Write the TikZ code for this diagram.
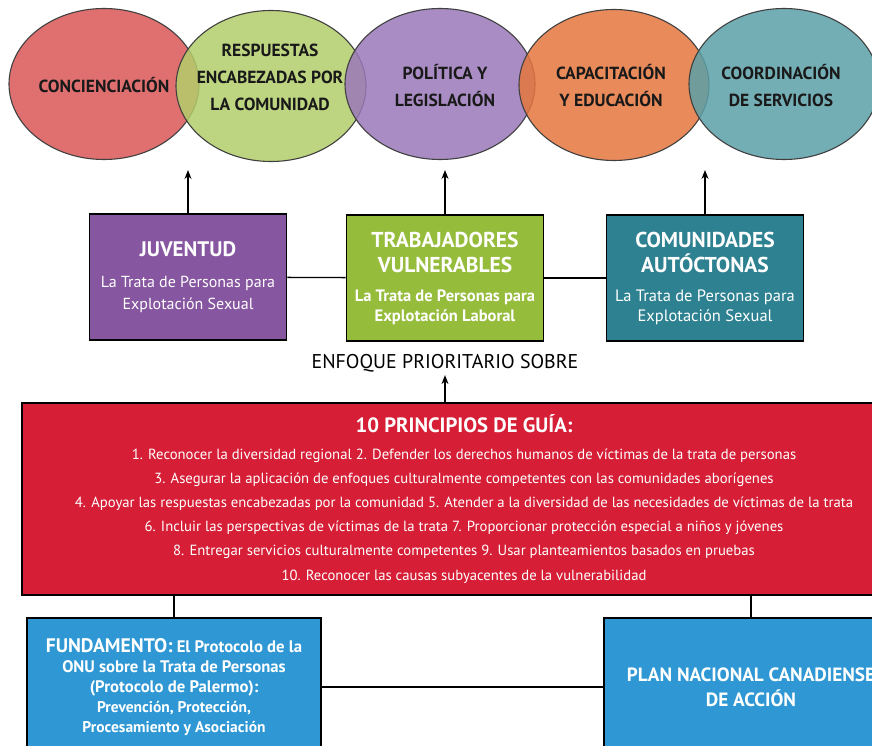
\documentclass[tikz,border=0pt]{standalone}
\usepackage{fontspec}
\setmainfont{PT Sans}
\usetikzlibrary{shapes.geometric,arrows.meta}
\definecolor{ovred}{HTML}{DB5757}
\definecolor{ovgreen}{HTML}{B2CD6A}
\definecolor{ovpurple}{HTML}{9A78B8}
\definecolor{ovorange}{HTML}{E4763D}
\definecolor{ovteal}{HTML}{5CA0A8}
\definecolor{bxpurple}{HTML}{8756A0}
\definecolor{bxgreen}{HTML}{96BC3C}
\definecolor{bxteal}{HTML}{2D8190}
\definecolor{bxred}{HTML}{D61F36}
\definecolor{bxblue}{HTML}{2F98D4}
\begin{document}
\begin{tikzpicture}[x=1pt,y=-1pt,
  oval/.style={ellipse,draw=black!75,line width=1.1pt,minimum width=190pt,minimum height=151pt,inner sep=0pt,fill opacity=0.85},
  ovaltext/.style={align=center,font=\fontsize{17.5}{27}\selectfont\bfseries,text=black!90},
  topbox/.style={rectangle,draw=black,line width=1.8pt,minimum width=197pt,minimum height=126pt,text=white,align=center},
  basebox/.style={rectangle,draw=black,line width=1.8pt,minimum width=294pt,minimum height=138pt,fill=bxblue,text=white,align=center},
  link/.style={line width=1.3pt},
  arr/.style={line width=1.3pt,-{Stealth[length=9pt,width=7pt]}}]
\useasboundingbox (0,0) rectangle (872,746);
\clip (0,0) rectangle (872,746);

% the five fields of action
\node[oval,fill=ovred] (conc) at (104,84) {};
\node[oval,fill=ovgreen] (resp) at (271,86) {};
\node[oval,fill=ovpurple] (poli) at (440,84) {};
\node[oval,fill=ovorange] (capa) at (614,85) {};
\node[oval,fill=ovteal] (coor) at (784,84) {};

\node[ovaltext] (conc-t) at (104,85) {CONCIENCIACIÓN};
\node[ovaltext] (resp-t) at (270,77) {RESPUESTAS\\ENCABEZADAS POR\\LA COMUNIDAD};
\node[ovaltext] (poli-t) at (445,86) {POLÍTICA Y\\LEGISLACIÓN};
\node[ovaltext] (capa-t) at (611,86) {CAPACITACIÓN\\Y EDUCACIÓN};
\node[ovaltext] (coor-t) at (781,86) {COORDINACIÓN\\DE SERVICIOS};

% priority groups
\node[topbox,fill=bxpurple,font=\fontsize{16}{22}\selectfont] (juv) at (188,277)
  {{\fontsize{21}{22}\selectfont\bfseries JUVENTUD}\\[9pt] La Trata de Personas para\\ Explotación Sexual};
\node[topbox,fill=bxgreen,font=\fontsize{16.5}{20}\selectfont\bfseries] (trab) at (445,278)
  {{\fontsize{21.5}{20}\selectfont TRABAJADORES}\\[5pt] {\fontsize{21.5}{20}\selectfont VULNERABLES}\\[9pt]
  La Trata de Personas para\\ Explotación Laboral};
\node[topbox,fill=bxteal,font=\fontsize{16.5}{20}\selectfont] (comu) at (705,278)
  {{\fontsize{21.5}{20}\selectfont\bfseries COMUNIDADES}\\[5pt] {\fontsize{21.5}{20}\selectfont\bfseries AUTÓCTONAS}\\[9pt]
  La Trata de Personas para\\ Explotación Sexual};

\coordinate (tip1) at (188,170);
\coordinate (tip2) at (445,170);
\coordinate (tip3) at (705,170);
\draw[arr] (juv) -- (tip1);
\draw[arr] (trab) -- (tip2);
\draw[arr] (comu) -- (tip3);
\draw[link] (juv) -- (trab);
\draw[link] (trab) -- (comu);

\node[font=\fontsize{19.9}{22}\selectfont,inner sep=3pt] (enf) at (445,363) {ENFOQUE PRIORITARIO SOBRE};

% guiding principles
\node[rectangle,draw=black,line width=1.8pt,fill=bxred,text=white,align=center,
  minimum width=884pt,minimum height=192pt,font=\fontsize{14.7}{24.2}\selectfont] (princ) at (464,499)
  {{\fontsize{20.7}{22}\selectfont\bfseries 10 PRINCIPIOS DE GUÍA:}\\[2pt]
  1. Reconocer la diversidad regional 2. Defender los derechos humanos de víctimas de la trata de personas\\
  3. Asegurar la aplicación de enfoques culturalmente competentes con las comunidades aborígenes\\
  4. Apoyar las respuestas encabezadas por la comunidad 5. Atender a la diversidad de las necesidades de víctimas de la trata\\
  6. Incluir las perspectivas de víctimas de la trata 7. Proporcionar protección especial a niños y jóvenes\\
  8. Entregar servicios culturalmente competentes 9. Usar planteamientos basados en pruebas\\
  10. Reconocer las causas subyacentes de la vulnerabilidad};
\draw[arr] (enf.south |- princ.north) -- (enf.south);

% foundation and plan
\node[basebox,font=\fontsize{16.7}{20}\selectfont\bfseries] (fund) at (174,687)
  {{\fontsize{19.6}{20}\selectfont FUNDAMENTO:} El Protocolo de la\\ ONU sobre la Trata de Personas\\ (Protocolo de Palermo):\\
  {\fontsize{15.5}{20}\selectfont Prevención, Protección,}\\ {\fontsize{15.5}{20}\selectfont Procesamiento y Asociación}};
\node[basebox,font=\fontsize{19.2}{25}\selectfont\bfseries] (plan) at (751,687) {PLAN NACIONAL CANADIENSE\\ DE ACCIÓN};
\draw[link] (princ.south -| fund.north) -- (fund.north);
\draw[link] (princ.south -| plan.north) -- (plan.north);
\draw[link] (fund) -- (plan);
\end{tikzpicture}
\end{document}
